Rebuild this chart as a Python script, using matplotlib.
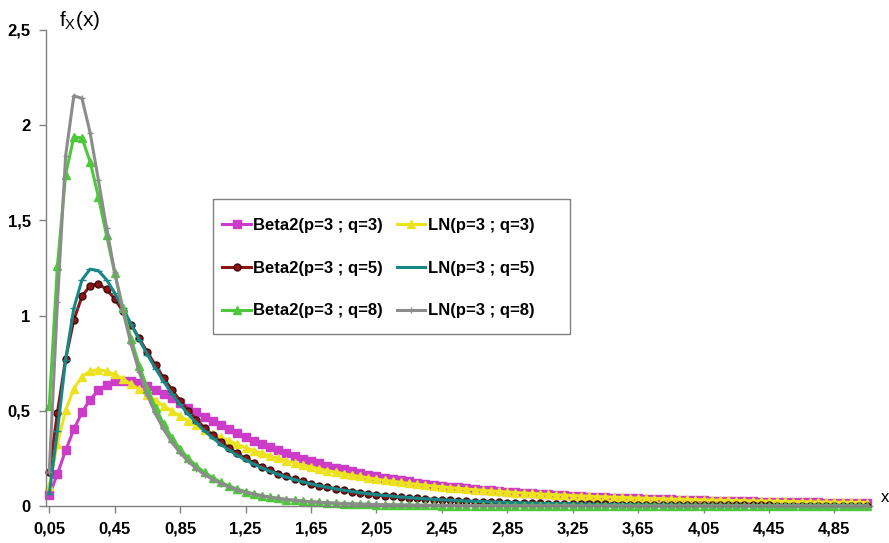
import matplotlib
matplotlib.use('Agg')
import matplotlib.pyplot as plt
import numpy as np
from matplotlib.patches import Rectangle

plt.rcParams['font.family'] = ['Liberation Sans', 'DejaVu Sans']

# categories: x = 0,05 ... 5,05 (step 0,05)
x = np.round(np.arange(1, 102) * 0.05, 2)

beta2_q3 = [0.056, 0.169, 0.292, 0.402, 0.492, 0.559, 0.607, 0.637, 0.654, 0.658,
            0.654, 0.644, 0.628, 0.609, 0.588, 0.565, 0.541, 0.517, 0.492, 0.469,
            0.446, 0.423, 0.402, 0.381, 0.361, 0.342, 0.325, 0.308, 0.292, 0.276,
            0.262, 0.249, 0.236, 0.224, 0.212, 0.202, 0.192, 0.182, 0.173, 0.165,
            0.157, 0.149, 0.142, 0.135, 0.129, 0.123, 0.117, 0.112, 0.107, 0.102,
            0.0975, 0.0932, 0.0891, 0.0852, 0.0816, 0.0781, 0.0748, 0.0717, 0.0687, 0.0659,
            0.0632, 0.0607, 0.0583, 0.0560, 0.0538, 0.0517, 0.0497, 0.0478, 0.0460, 0.0443,
            0.0426, 0.0410, 0.0395, 0.0381, 0.0367, 0.0354, 0.0342, 0.0330, 0.0318, 0.0307,
            0.0297, 0.0287, 0.0277, 0.0268, 0.0259, 0.0250, 0.0242, 0.0234, 0.0227, 0.0219,
            0.0213, 0.0206, 0.0199, 0.0193, 0.0187, 0.0182, 0.0176, 0.0171, 0.0166, 0.0161,
            0.0156]

ln_q3 = [0.107, 0.328, 0.503, 0.616, 0.680, 0.709, 0.716, 0.708, 0.691, 0.667,
         0.640, 0.612, 0.583, 0.554, 0.526, 0.499, 0.472, 0.447, 0.424, 0.401,
         0.380, 0.360, 0.341, 0.324, 0.307, 0.291, 0.277, 0.263, 0.250, 0.238,
         0.226, 0.215, 0.205, 0.195, 0.186, 0.178, 0.170, 0.162, 0.155, 0.148,
         0.141, 0.135, 0.130, 0.124, 0.119, 0.114, 0.109, 0.105, 0.101, 0.0967,
         0.0928, 0.0892, 0.0858, 0.0825, 0.0794, 0.0764, 0.0735, 0.0708, 0.0682, 0.0657,
         0.0634, 0.0611, 0.0590, 0.0569, 0.0549, 0.0530, 0.0512, 0.0495, 0.0478, 0.0462,
         0.0447, 0.0432, 0.0418, 0.0405, 0.0392, 0.0379, 0.0367, 0.0356, 0.0345, 0.0334,
         0.0324, 0.0314, 0.0304, 0.0295, 0.0287, 0.0278, 0.0270, 0.0262, 0.0254, 0.0247,
         0.0240, 0.0233, 0.0227, 0.0220, 0.0214, 0.0208, 0.0202, 0.0197, 0.0192, 0.0186,
         0.0181]

beta2_q5 = [0.178, 0.490, 0.772, 0.977, 1.101, 1.158, 1.166, 1.138, 1.088, 1.024,
            0.953, 0.880, 0.807, 0.738, 0.671, 0.610, 0.553, 0.501, 0.453, 0.410,
            0.371, 0.336, 0.304, 0.276, 0.250, 0.227, 0.206, 0.187, 0.170, 0.155,
            0.141, 0.129, 0.118, 0.107, 0.0983, 0.0900, 0.0826, 0.0758, 0.0696, 0.0640,
            0.0589, 0.0543, 0.0501, 0.0462, 0.0427, 0.0395, 0.0366, 0.0339, 0.0314, 0.0291,
            0.0271, 0.0252, 0.0234, 0.0218, 0.0203, 0.0189, 0.0177, 0.0165, 0.0154, 0.0144,
            0.0135, 0.0126, 0.0118, 0.0111, 0.0104, 0.0098, 0.0092, 0.0086, 0.0081, 0.0076,
            0.0072, 0.0068, 0.0064, 0.0060, 0.0057, 0.0054, 0.0051, 0.0048, 0.0045, 0.0043,
            0.0041, 0.0039, 0.0037, 0.0035, 0.0033, 0.0031, 0.0030, 0.0028, 0.0027, 0.0025,
            0.0024, 0.0023, 0.0022, 0.0021, 0.0020, 0.0019, 0.0018, 0.0017, 0.0016, 0.0016,
            0.0015]

ln_q5 = [0.0647, 0.394, 0.768, 1.038, 1.188, 1.244, 1.236, 1.189, 1.119, 1.039,
         0.956, 0.873, 0.795, 0.721, 0.653, 0.590, 0.534, 0.482, 0.436, 0.394,
         0.357, 0.323, 0.293, 0.266, 0.242, 0.220, 0.200, 0.182, 0.166, 0.152,
         0.139, 0.127, 0.117, 0.107, 0.0981, 0.0902, 0.0830, 0.0764, 0.0704, 0.0650,
         0.0600, 0.0554, 0.0513, 0.0475, 0.0440, 0.0408, 0.0379, 0.0352, 0.0327, 0.0304,
         0.0283, 0.0264, 0.0246, 0.0230, 0.0214, 0.0200, 0.0187, 0.0175, 0.0164, 0.0154,
         0.0144, 0.0135, 0.0127, 0.0119, 0.0112, 0.0105, 0.0099, 0.0093, 0.0087, 0.0082,
         0.0078, 0.0073, 0.0069, 0.0065, 0.0061, 0.0058, 0.0055, 0.0052, 0.0049, 0.0046,
         0.0044, 0.0042, 0.0039, 0.0037, 0.0035, 0.0034, 0.0032, 0.0030, 0.0029, 0.0027,
         0.0026, 0.0025, 0.0024, 0.0022, 0.0021, 0.0020, 0.0019, 0.0018, 0.0017, 0.0017,
         0.0016]

beta2_q8 = [0.526, 1.262, 1.741, 1.938, 1.933, 1.808, 1.625, 1.422, 1.224, 1.040,
            0.878, 0.737, 0.616, 0.515, 0.430, 0.358, 0.299, 0.250, 0.210, 0.176,
            0.148, 0.124, 0.105, 0.0887, 0.0752, 0.0639, 0.0544, 0.0464, 0.0396, 0.0340,
            0.0292, 0.0251, 0.0217, 0.0187, 0.0162, 0.0141, 0.0122, 0.0107, 0.0093, 0.0081,
            0.0071, 0.0062, 0.0055, 0.0048, 0.0043, 0.0038, 0.0033, 0.0030, 0.0026, 0.0023,
            0.0021, 0.0018, 0.0017, 0.0015, 0.0013, 0.0012, 0.0011, 0.0010, 0.0009, 0.0008,
            0.0007, 0.0006, 0.0006, 0.0005, 0.0005, 0.0004, 0.0004, 0.0003, 0.0003, 0.0003,
            0.0003, 0.0002, 0.0002, 0.0002, 0.0002, 0.0002, 0.0002, 0.0001, 0.0001, 0.0001,
            0.0001, 0.0001, 0.0001, 0.0001, 0.0001, 0.0001, 0.0001, 0.0001, 0.0, 0.0,
            0.0, 0.0, 0.0, 0.0, 0.0, 0.0, 0.0, 0.0, 0.0, 0.0,
            0.0]

ln_q8 = [0.179, 1.070, 1.839, 2.154, 2.141, 1.959, 1.714, 1.462, 1.228, 1.024,
         0.850, 0.704, 0.583, 0.483, 0.402, 0.334, 0.279, 0.234, 0.196, 0.165,
         0.139, 0.118, 0.100, 0.0852, 0.0727, 0.0623, 0.0534, 0.0460, 0.0396, 0.0343,
         0.0297, 0.0258, 0.0224, 0.0196, 0.0171, 0.0150, 0.0131, 0.0115, 0.0102, 0.0090,
         0.0079, 0.0070, 0.0062, 0.0055, 0.0049, 0.0044, 0.0039, 0.0035, 0.0031, 0.0028,
         0.0025, 0.0022, 0.0020, 0.0018, 0.0016, 0.0015, 0.0013, 0.0012, 0.0011, 0.0010,
         0.0009, 0.0008, 0.0007, 0.0007, 0.0006, 0.0006, 0.0005, 0.0005, 0.0004, 0.0004,
         0.0004, 0.0003, 0.0003, 0.0003, 0.0003, 0.0002, 0.0002, 0.0002, 0.0002, 0.0002,
         0.0002, 0.0001, 0.0001, 0.0001, 0.0001, 0.0001, 0.0001, 0.0001, 0.0001, 0.0001,
         0.0001, 0.0001, 0.0001, 0.0001, 0.0001, 0.0, 0.0, 0.0, 0.0, 0.0,
         0.0]

xtick_pos = [0.05, 0.45, 0.85, 1.25, 1.65, 2.05, 2.45, 2.85, 3.25, 3.65, 4.05, 4.45, 4.85]
xtick_lab = ['0,05', '0,45', '0,85', '1,25', '1,65', '2,05', '2,45', '2,85',
             '3,25', '3,65', '4,05', '4,45', '4,85']
ytick_pos = [0, 0.5, 1, 1.5, 2, 2.5]
ytick_lab = ['0', '0,5', '1', '1,5', '2', '2,5']

# series drawn in Excel order (later ones on top)
SERIES = [
    (beta2_q3, 'Beta2(p=3 ; q=3)', '#CC3CC8', 's', 5.5, '#CC3CC8'),
    (ln_q3,    'LN(p=3 ; q=3)',    '#EDE21E', '^', 6.0, '#EDE21E'),
    (beta2_q5, 'Beta2(p=3 ; q=5)', '#8E1414', 'o', 5.0, '#3E0A0A'),
    (ln_q5,    'LN(p=3 ; q=5)',    '#178888', '_', 5.5, '#178888'),
    (beta2_q8, 'Beta2(p=3 ; q=8)', '#4CC83A', '^', 5.5, '#4CC83A'),
    (ln_q8,    'LN(p=3 ; q=8)',    '#8C8C8C', '+', 5.0, '#8C8C8C'),
]

fig = plt.figure(figsize=(8.89, 5.43), dpi=100)
ax = fig.add_axes([46/889, 37/543, 826/889, 476/543])

handles = []
for y, lab, col, mk, ms, mec in SERIES:
    h, = ax.plot(x, y, color=col, lw=2.2, marker=mk, ms=ms, mfc=col, mec=mec,
                 mew=1.0, label=lab, clip_on=False)
    handles.append(h)

ax.set_xlim(0.03, 5.08)
ax.set_ylim(0, 2.5)
ax.set_xticks(xtick_pos)
ax.set_xticklabels(xtick_lab, fontweight='bold')
ax.set_yticks(ytick_pos)
ax.set_yticklabels(ytick_lab, fontweight='bold')
ax.tick_params(axis='both', direction='out', length=5, width=1, color='#808080',
               labelsize=12)
ax.tick_params(axis='x', pad=6)
ax.tick_params(axis='y', pad=6)
for s in ['top', 'right']:
    ax.spines[s].set_visible(False)
for s in ['left', 'bottom']:
    ax.spines[s].set_color('#808080')
    ax.spines[s].set_linewidth(1)

# legend: two columns, row-wise Beta2 | LN
order = [0, 2, 4, 1, 3, 5]
ax.legend(handles=[handles[i] for i in order], ncol=2, loc='upper left',
          bbox_to_anchor=(214/889, 1 - 210/543), bbox_transform=fig.transFigure,
          frameon=False, borderpad=0, handlelength=1.7, handletextpad=0.15,
          columnspacing=0.85, labelspacing=1.65,
          prop={'weight': 'bold', 'size': 12})
fig.add_artist(Rectangle((213/889, 1 - 334/543), 357/889, 135/543,
                         transform=fig.transFigure, fill=False,
                         ec='#808080', lw=1))

fig.text(59/889, 1 - 21/543, r'$\mathregular{f_X(x)}$', fontsize=15,
         ha='left', va='center')
fig.text(885/889, 1 - 497/543, 'x', fontsize=12, ha='center', va='center')

fig.savefig('out.png', dpi=100)
